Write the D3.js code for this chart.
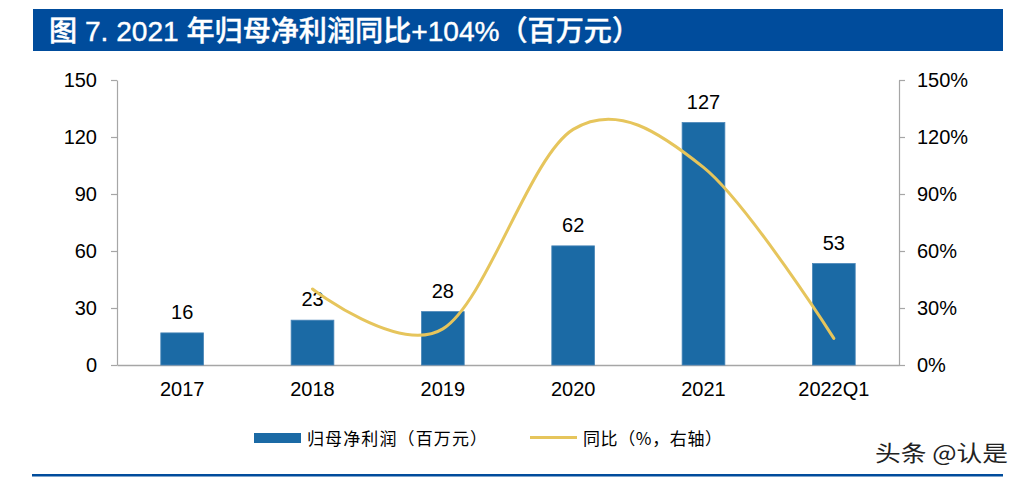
<!DOCTYPE html>
<html>
<head>
<meta charset="utf-8">
<script src="https://cdn.jsdelivr.net/npm/d3@7"></script>
<style>
  html, body { margin: 0; padding: 0; background: #fff; }
  svg { display: block; }
</style>
</head>
<body>
<svg id="chart" width="1024" height="478"></svg>
<script>
// ---- data ----
const titleText = "图 7. 2021 年归母净利润同比+104%（百万元）";
const categories = ["2017", "2018", "2019", "2020", "2021", "2022Q1"];
const profitValues = [16.9, 23.6, 28.1, 62.7, 127.6, 53.4];      // 百万元
const yoyCategories = ["2018", "2019", "2020", "2021", "2022Q1"];
const yoyValues = [40, 19, 124, 104, 14];                          // %
const leftTicks = [0, 30, 60, 90, 120, 150];
const rightTicks = [0, 30, 60, 90, 120, 150];
const legendBar = "归母净利润（百万元）";
const legendLine = "同比（%，右轴）";
const watermark = "头条 @认是";

// ---- layout ----
const svg = d3.select("#chart");
const plotLeft = 117, plotRight = 899, plotTop = 80, plotBottom = 365;
const barColor = "#1b6aa5";
const lineColor = "#e6c55c";
const axisColor = "#a6a6a6";
const latin = "Arial, 'Liberation Sans', sans-serif";
const cjk = "'Noto Sans CJK SC', sans-serif";
const fs = 20;

// title bar
svg.append("rect").attr("x", 33).attr("y", 9).attr("width", 970).attr("height", 42).attr("fill", "#004c9c");
svg.append("text").attr("x", 49).attr("y", 41)
  .attr("fill", "#fff").attr("font-family", "Arial, 'Liberation Sans', 'Noto Sans CJK SC', sans-serif")
  .attr("font-size", 28).attr("font-weight", 500)
  .attr("stroke", "#fff").attr("stroke-width", 0.4)
  .attr("textLength", 591).attr("lengthAdjust", "spacingAndGlyphs")
  .text(titleText);

// scales
const x = d3.scaleBand().domain(categories).range([plotLeft, plotRight])
  .paddingInner(0.672).paddingOuter(0.336);
const yL = d3.scaleLinear().domain([0, 150]).range([plotBottom, plotTop]);
const yR = d3.scaleLinear().domain([0, 150]).range([plotBottom, plotTop]);

// left axis
const gL = svg.append("g").attr("transform", `translate(${plotLeft},0)`)
  .call(d3.axisLeft(yL).tickValues(leftTicks).tickSize(6).tickPadding(14).tickSizeOuter(0));
// right axis
const gR = svg.append("g").attr("transform", `translate(${plotRight},0)`)
  .call(d3.axisRight(yR).tickValues(rightTicks).tickSize(6).tickPadding(12).tickSizeOuter(0)
    .tickFormat(d => d + "%"));
[gL, gR].forEach(g => {
  g.selectAll(".domain").attr("stroke", axisColor).attr("stroke-width", 1.2);
  g.selectAll(".tick line").attr("stroke", axisColor).attr("stroke-width", 1.2);
  g.selectAll(".tick text").attr("fill", "#000").attr("font-family", latin).attr("font-size", fs);
});

// bottom axis
const gB = svg.append("g").attr("transform", `translate(0,${plotBottom})`)
  .call(d3.axisBottom(x).tickSize(0).tickPadding(17));
gB.select(".domain").attr("stroke", axisColor).attr("stroke-width", 1.5);
gB.selectAll(".tick text").attr("fill", "#000").attr("font-family", latin).attr("font-size", fs);

// bars
svg.append("g").selectAll("rect").data(categories).join("rect")
  .attr("x", d => x(d))
  .attr("y", (d, i) => yL(profitValues[i]))
  .attr("width", x.bandwidth())
  .attr("height", (d, i) => plotBottom - yL(profitValues[i]))
  .attr("fill", barColor)
  .attr("stroke", "#4a86b8").attr("stroke-width", 0.8);

// bar labels
svg.append("g").selectAll("text").data(categories).join("text")
  .attr("x", d => x(d) + x.bandwidth() / 2)
  .attr("y", (d, i) => yL(profitValues[i]) - 14)
  .attr("text-anchor", "middle")
  .attr("font-family", latin).attr("font-size", fs).attr("fill", "#000")
  .text((d, i) => Math.floor(profitValues[i]));

// yoy line
const line = d3.line()
  .x(d => x(d[0]) + x.bandwidth() / 2)
  .y(d => yR(d[1]))
  .curve(d3.curveCardinal.tension(0));
svg.append("path")
  .datum(yoyCategories.map((c, i) => [c, yoyValues[i]]))
  .attr("d", line)
  .attr("fill", "none").attr("stroke", lineColor).attr("stroke-width", 3)
  .attr("stroke-linecap", "round");

// legend
svg.append("rect").attr("x", 254).attr("y", 433).attr("width", 47).attr("height", 10).attr("fill", barColor);
svg.append("text").attr("x", 307).attr("y", 445)
  .attr("font-family", cjk).attr("font-size", 17).attr("fill", "#000")
  .attr("textLength", 180).attr("lengthAdjust", "spacing")
  .text(legendBar);
svg.append("line").attr("x1", 530).attr("x2", 577).attr("y1", 437.5).attr("y2", 437.5)
  .attr("stroke", lineColor).attr("stroke-width", 3);
svg.append("text").attr("x", 583).attr("y", 445)
  .attr("font-family", cjk).attr("font-size", 17).attr("fill", "#000")
  .attr("textLength", 139).attr("lengthAdjust", "spacing")
  .text(legendLine);

// bottom rule
svg.append("rect").attr("x", 32).attr("y", 474).attr("width", 971).attr("height", 2.5).attr("fill", "#004c9c");

// watermark
svg.append("text").attr("x", 875).attr("y", 461)
  .attr("font-family", cjk).attr("font-size", 22).attr("fill", "#222")
  .attr("stroke", "#fff").attr("stroke-width", 2).attr("paint-order", "stroke")
  .attr("textLength", 133).attr("lengthAdjust", "spacingAndGlyphs")
  .text(watermark);
</script>
</body>
</html>
